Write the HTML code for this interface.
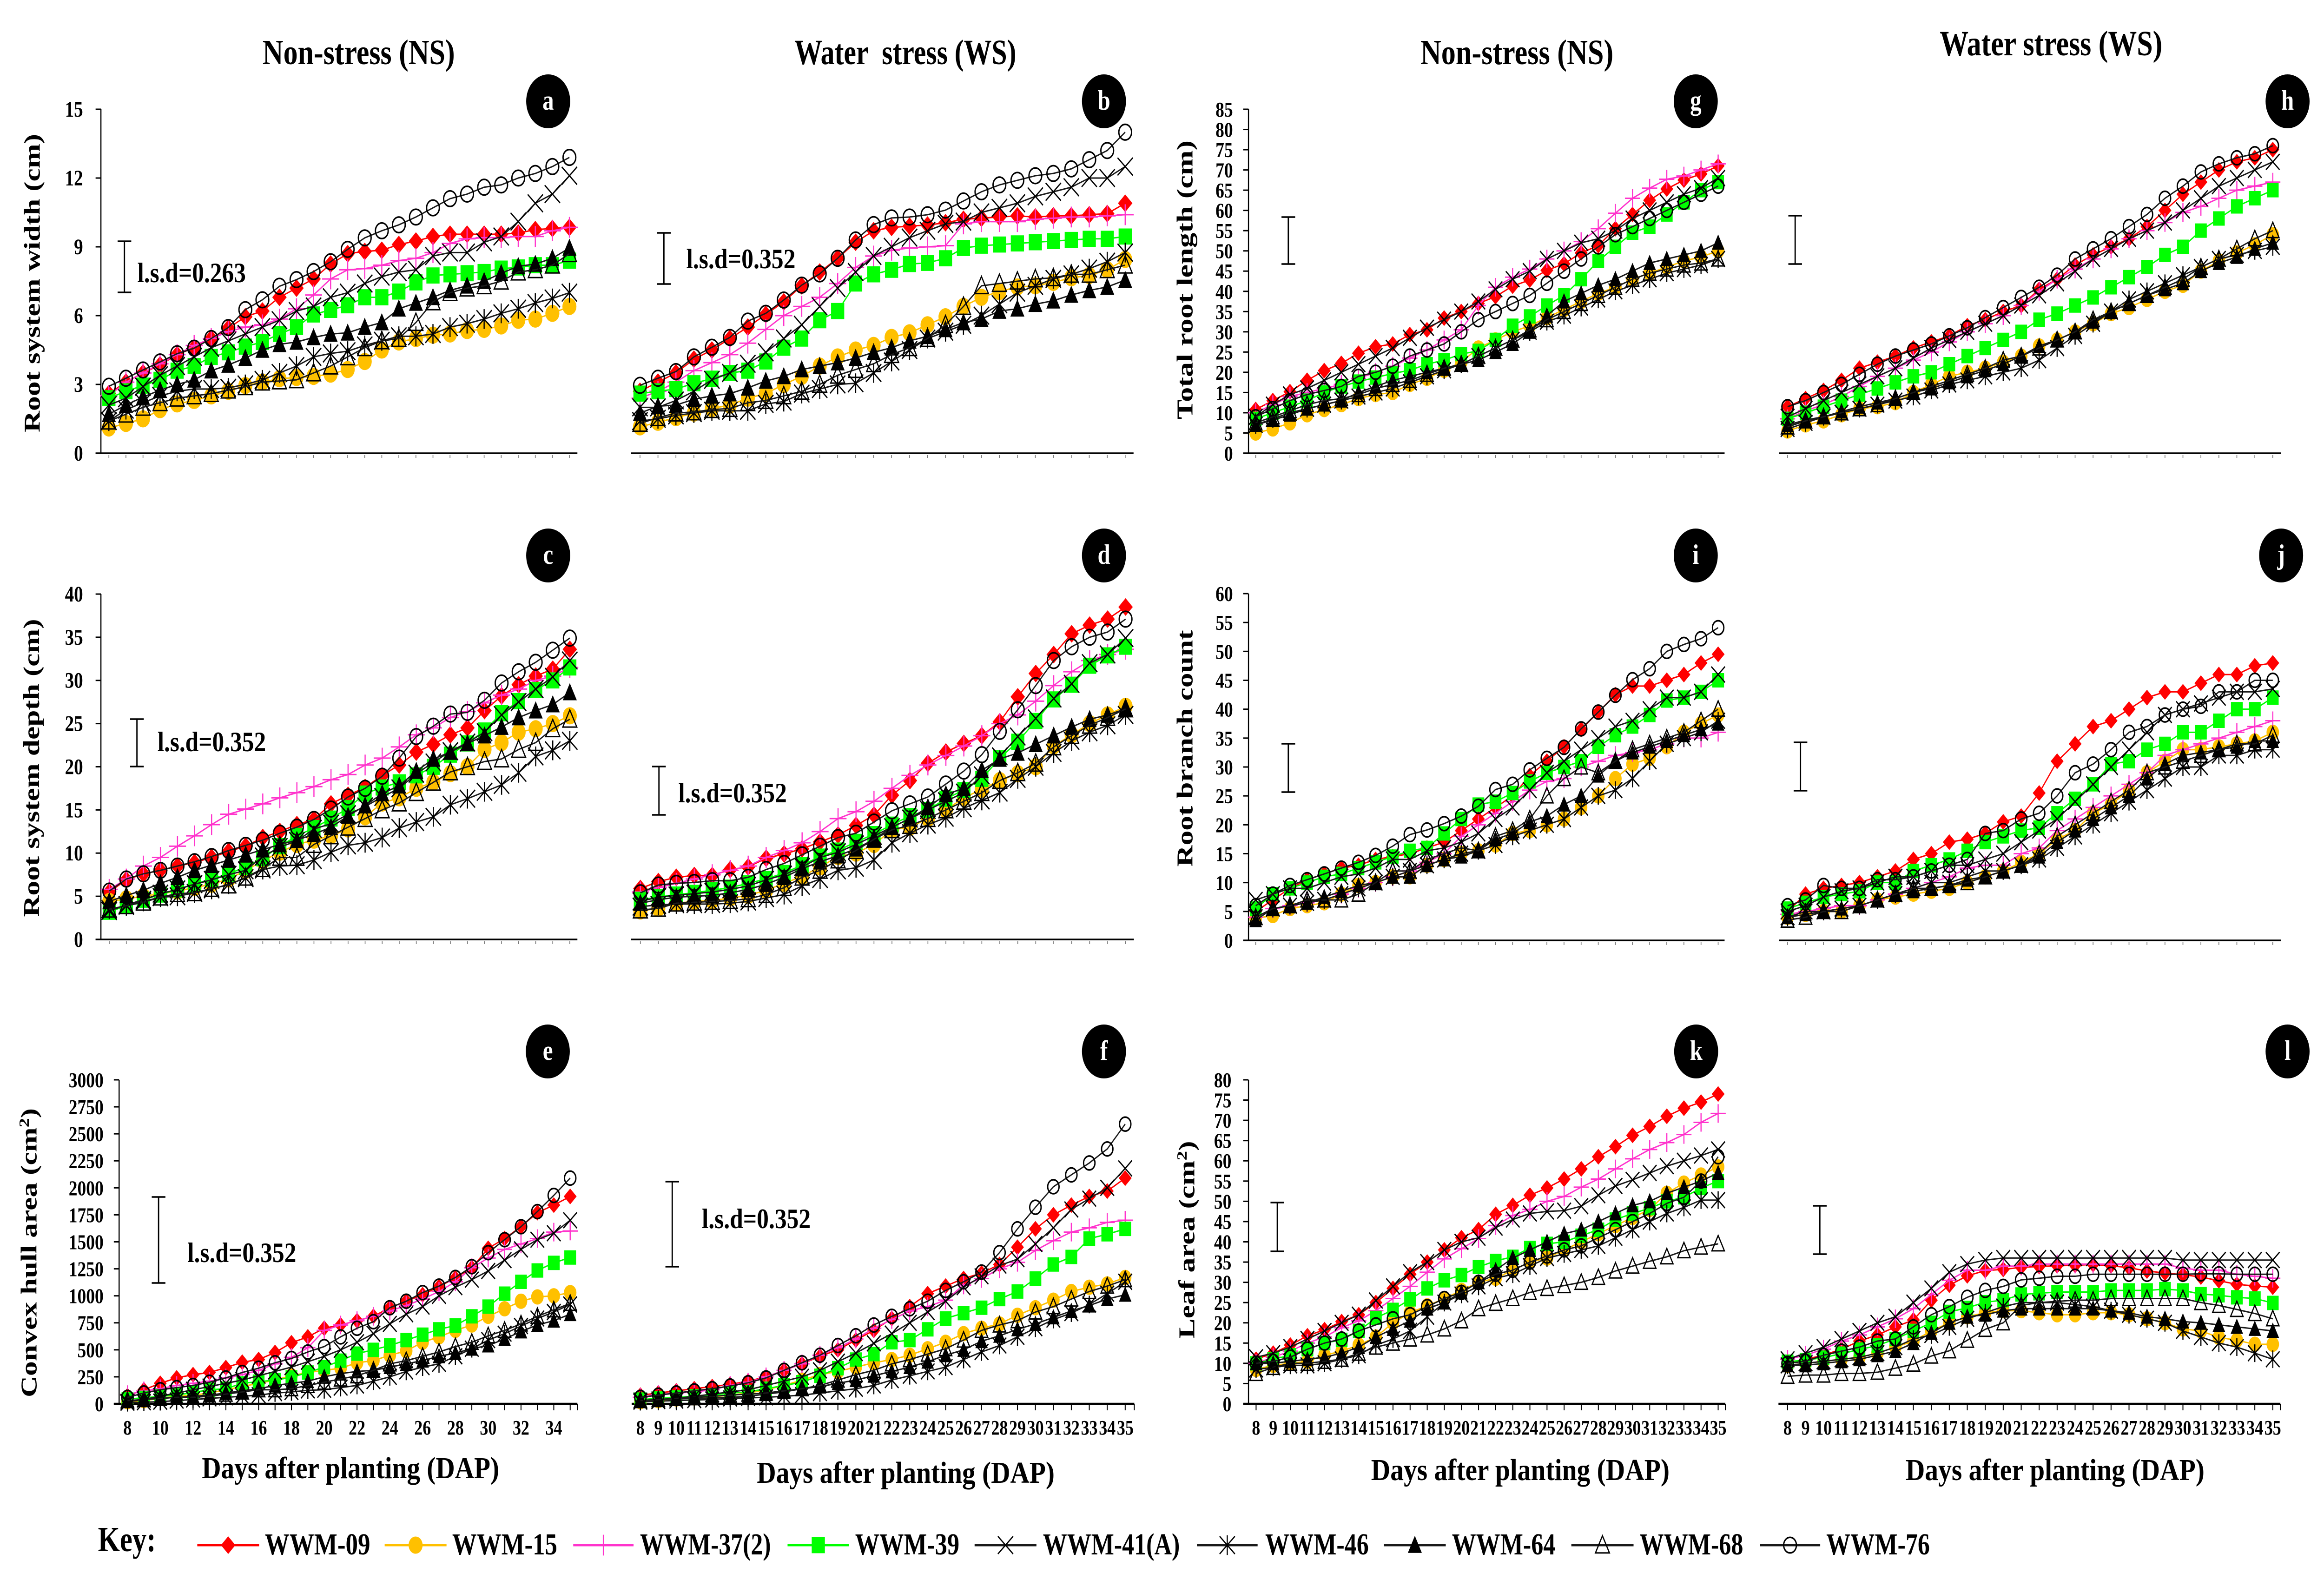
<!DOCTYPE html>
<html lang="en">
<head>
<meta charset="utf-8">
<title>Root and leaf growth of WWM lines under non-stress and water stress</title>
<style>
html,body{margin:0;padding:0;background:#fff;width:100%;height:100%;overflow:hidden}
svg{display:block;width:100vw;height:100vh}
text{font-family:"Liberation Serif",serif;font-weight:bold;fill:#000}
</style>
</head>
<body>
<svg id="figure" xmlns="http://www.w3.org/2000/svg" viewBox="0 0 6126 3399" preserveAspectRatio="none">
<rect x="0" y="0" width="6126" height="3399" fill="#fff"/>

<g id="plots"></g>

<g font-size="76">
<text x="692" y="138" textLength="507" lengthAdjust="spacingAndGlyphs">Non-stress (NS)</text>
<text x="2094" y="138" textLength="585" lengthAdjust="spacingAndGlyphs" xml:space="preserve">Water  stress (WS)</text>
<text x="3744" y="138" textLength="509" lengthAdjust="spacingAndGlyphs">Non-stress (NS)</text>
<text x="5113" y="119" textLength="587" lengthAdjust="spacingAndGlyphs" xml:space="preserve">Water stress (WS)</text>
</g>

<g font-size="60" text-anchor="middle">
<text transform="translate(105,609) rotate(-90)" textLength="642" lengthAdjust="spacingAndGlyphs">Root system width (cm)</text>
<text transform="translate(103,1652) rotate(-90)" textLength="641" lengthAdjust="spacingAndGlyphs">Root system depth (cm)</text>
<text transform="translate(96,2695) rotate(-90)" textLength="622" lengthAdjust="spacingAndGlyphs">Convex hull area (cm<tspan font-size="38" dy="-20">2</tspan><tspan dy="20">)</tspan></text>
<text transform="translate(3143,602) rotate(-90)" textLength="600" lengthAdjust="spacingAndGlyphs">Total root length (cm)</text>
<text transform="translate(3143,1610) rotate(-90)" textLength="509" lengthAdjust="spacingAndGlyphs">Root branch count</text>
<text transform="translate(3148,2667) rotate(-90)" textLength="425" lengthAdjust="spacingAndGlyphs">Leaf area (cm<tspan font-size="38" dy="-20">2</tspan><tspan dy="20">)</tspan></text>
</g>

<g font-size="66">
<text x="532" y="3180" textLength="784" lengthAdjust="spacingAndGlyphs">Days after planting (DAP)</text>
<text x="1995" y="3190" textLength="785" lengthAdjust="spacingAndGlyphs">Days after planting (DAP)</text>
<text x="3614" y="3184" textLength="787" lengthAdjust="spacingAndGlyphs">Days after planting (DAP)</text>
<text x="5023" y="3184" textLength="788" lengthAdjust="spacingAndGlyphs">Days after planting (DAP)</text>
</g>

<g font-size="60">
<text x="362" y="607" textLength="286" lengthAdjust="spacingAndGlyphs">l.s.d=0.263</text>
<text x="1809" y="577" textLength="288" lengthAdjust="spacingAndGlyphs">l.s.d=0.352</text>
<text x="415" y="1616" textLength="286" lengthAdjust="spacingAndGlyphs">l.s.d=0.352</text>
<text x="1788" y="1726" textLength="286" lengthAdjust="spacingAndGlyphs">l.s.d=0.352</text>
<text x="494" y="2715" textLength="287" lengthAdjust="spacingAndGlyphs">l.s.d=0.352</text>
<text x="1850" y="2642" textLength="287" lengthAdjust="spacingAndGlyphs">l.s.d=0.352</text>
</g>

<g>
<circle cx="1445" cy="218" r="58" fill="#000"/>
<circle cx="2910" cy="218" r="58" fill="#000"/>
<circle cx="1445" cy="1195" r="58" fill="#000"/>
<circle cx="2910" cy="1195" r="58" fill="#000"/>
<circle cx="1444" cy="2262" r="58" fill="#000"/>
<circle cx="2910" cy="2262" r="58" fill="#000"/>
<circle cx="4470" cy="218" r="58" fill="#000"/>
<circle cx="6030" cy="218" r="58" fill="#000"/>
<circle cx="4470" cy="1195" r="58" fill="#000"/>
<circle cx="6013" cy="1195" r="58" fill="#000"/>
<circle cx="4471" cy="2262" r="58" fill="#000"/>
<circle cx="6030" cy="2262" r="58" fill="#000"/>
<g font-size="60" text-anchor="middle" style="fill:#fff">
<text x="1445" y="236" style="fill:#fff">a</text>
<text x="2910" y="236" style="fill:#fff">b</text>
<text x="1445" y="1213" style="fill:#fff">c</text>
<text x="2910" y="1213" style="fill:#fff">d</text>
<text x="1444" y="2280" style="fill:#fff">e</text>
<text x="2910" y="2280" style="fill:#fff">f</text>
<text x="4470" y="236" style="fill:#fff">g</text>
<text x="6030" y="236" style="fill:#fff">h</text>
<text x="4470" y="1213" style="fill:#fff">i</text>
<text x="6013" y="1213" style="fill:#fff">j</text>
<text x="4471" y="2280" style="fill:#fff">k</text>
<text x="6030" y="2280" style="fill:#fff">l</text>
</g>
</g>

<g id="legend">
<text x="258" y="3337" font-size="76" textLength="153" lengthAdjust="spacingAndGlyphs">Key:</text>
<g font-size="66">
<text x="698" y="3344" textLength="278" lengthAdjust="spacingAndGlyphs">WWM-09</text>
<text x="1192" y="3344" textLength="277" lengthAdjust="spacingAndGlyphs">WWM-15</text>
<text x="1687" y="3344" textLength="345" lengthAdjust="spacingAndGlyphs">WWM-37(2)</text>
<text x="2254" y="3344" textLength="275" lengthAdjust="spacingAndGlyphs">WWM-39</text>
<text x="2749" y="3344" textLength="361" lengthAdjust="spacingAndGlyphs">WWM-41(A)</text>
<text x="3335" y="3344" textLength="273" lengthAdjust="spacingAndGlyphs">WWM-46</text>
<text x="3827" y="3344" textLength="273" lengthAdjust="spacingAndGlyphs">WWM-64</text>
<text x="4322" y="3344" textLength="273" lengthAdjust="spacingAndGlyphs">WWM-68</text>
<text x="4814" y="3344" textLength="273" lengthAdjust="spacingAndGlyphs">WWM-76</text>
</g>
</g>
</svg>

<script>
// Categories and tick labels
const days=[8,9,10,11,12,13,14,15,16,17,18,19,20,21,22,23,24,25,26,27,28,29,30,31,32,33,34,35];
const everyOtherDay=[8,10,12,14,16,18,20,22,24,26,28,30,32,34];
const ticksWidth=[0,3,6,9,12,15];
const ticksDepth=[0,5,10,15,20,25,30,35,40];
const ticksHull=[0,250,500,750,1000,1250,1500,1750,2000,2250,2500,2750,3000];
const ticksLength=[0,5,10,15,20,25,30,35,40,45,50,55,60,65,70,75,80,85];
const ticksBranch=[0,5,10,15,20,25,30,35,40,45,50,55,60];
const ticksLeaf=[0,5,10,15,20,25,30,35,40,45,50,55,60,65,70,75,80];

// a: root system width, non-stress
const a09=[2.6,3.1,3.5,3.85,4.3,4.6,5.0,5.45,5.95,6.2,6.8,7.2,7.6,8.25,8.7,8.8,8.85,9.1,9.25,9.45,9.55,9.55,9.55,9.55,9.6,9.75,9.8,9.85];
const a15=[1.1,1.3,1.5,1.9,2.15,2.3,2.5,2.7,2.95,3.1,3.25,3.3,3.35,3.45,3.65,4.0,4.5,4.85,5.0,5.15,5.2,5.35,5.4,5.55,5.8,5.85,6.1,6.4];
const a37=[2.5,3.1,3.5,3.9,4.3,4.7,5.0,5.3,5.5,5.6,5.85,6.3,6.9,7.6,8.0,8.05,8.2,8.4,8.5,8.75,9.15,9.35,9.4,9.4,9.45,9.45,9.7,9.85];
const a39=[2.4,2.7,2.95,3.2,3.6,3.8,4.2,4.4,4.65,4.85,5.2,5.5,6.05,6.25,6.45,6.8,6.8,7.05,7.45,7.75,7.8,7.85,7.9,8.05,8.1,8.2,8.2,8.4];
const a41=[2.1,2.4,2.9,3.4,3.8,4.2,4.6,4.9,5.2,5.5,5.8,6.2,6.4,6.8,7.0,7.4,7.7,7.9,8.0,8.6,8.75,8.75,9.2,9.45,10.1,10.9,11.3,12.1];
const a46=[1.4,1.9,2.2,2.5,2.7,2.8,2.8,2.85,3.0,3.2,3.5,3.8,4.2,4.35,4.45,4.7,4.9,5.1,5.1,5.2,5.5,5.65,5.85,6.1,6.3,6.55,6.75,7.0];
const a64=[1.7,2.1,2.45,2.75,3.0,3.2,3.6,3.85,4.15,4.5,4.75,4.85,5.05,5.2,5.25,5.5,5.7,6.3,6.55,6.8,7.1,7.3,7.5,7.85,8.15,8.25,8.5,8.95];
const a68=[1.4,1.7,2.0,2.2,2.4,2.5,2.6,2.75,2.9,3.1,3.15,3.2,3.5,3.8,4.2,4.6,4.9,5.0,5.7,6.6,7.0,7.2,7.3,7.5,7.9,8.0,8.2,8.7];
const a76=[2.92,3.27,3.63,3.98,4.34,4.58,5.0,5.48,6.26,6.69,7.28,7.57,7.92,8.35,8.89,9.39,9.7,9.96,10.3,10.7,11.1,11.3,11.6,11.7,12.0,12.2,12.5,12.9];

// b: root system width, water stress
const b09=[2.7,3.1,3.5,4.1,4.5,5.0,5.5,6.05,6.6,7.3,7.9,8.5,9.2,9.7,9.85,9.9,9.95,10.05,10.2,10.25,10.3,10.35,10.3,10.35,10.35,10.4,10.45,10.9];
const b15=[1.15,1.35,1.55,1.75,1.95,2.1,2.4,2.6,3.0,3.35,3.8,4.2,4.5,4.7,5.05,5.25,5.6,5.95,6.4,6.8,7.05,7.25,7.3,7.45,7.65,7.75,8.0,8.45];
const b37=[2.4,2.7,3.1,3.6,3.95,4.3,4.8,5.4,6.0,6.4,6.8,7.4,8.1,8.6,8.85,8.95,9.0,9.05,10.0,10.1,10.1,10.1,10.2,10.25,10.3,10.3,10.35,10.4];
const b39=[2.6,2.7,2.8,3.05,3.25,3.5,3.6,4.0,4.6,5.0,5.8,6.2,7.4,7.8,8.0,8.25,8.3,8.5,8.95,9.05,9.1,9.15,9.2,9.25,9.3,9.35,9.35,9.45];
const b41=[2.0,2.0,2.3,2.7,3.2,3.5,3.9,4.4,5.0,5.6,6.4,7.2,7.9,8.6,9.0,9.4,9.7,10.0,10.1,10.5,10.7,10.9,11.2,11.4,11.6,12.0,12.0,12.5];
const b46=[1.4,1.5,1.65,1.75,1.85,1.85,1.85,2.15,2.25,2.6,2.8,3.0,3.05,3.5,4.0,4.5,5.0,5.3,5.6,6.0,6.5,7.0,7.3,7.6,7.8,8.05,8.35,8.75];
const b64=[1.75,2.05,2.1,2.35,2.5,2.6,2.85,3.15,3.35,3.65,3.8,3.95,4.15,4.4,4.6,4.9,5.1,5.4,5.7,5.85,6.2,6.3,6.5,6.65,6.9,7.1,7.25,7.55];
const b68=[1.3,1.55,1.75,1.8,1.9,1.95,2.2,2.3,2.5,2.7,3.0,3.4,3.65,3.9,4.3,4.6,5.0,5.6,6.4,7.3,7.4,7.5,7.6,7.65,7.8,7.8,8.0,8.2];
const b76=[2.96,3.27,3.56,4.2,4.62,5.05,5.76,6.1,6.68,7.33,7.82,8.5,9.3,9.97,10.26,10.3,10.4,10.6,11.0,11.4,11.7,11.9,12.1,12.2,12.4,12.8,13.2,14.0];

// c: root system depth, non-stress
const c09=[5.5,6.9,7.6,8.0,8.5,8.9,9.5,10.2,10.8,11.8,12.5,13.3,13.9,15.7,16.7,17.6,19.0,20.2,21.7,22.6,23.7,24.5,26.5,28.2,29.5,30.5,31.3,33.6];
const c15=[4.4,4.7,5.0,5.3,5.6,6.0,6.4,7.0,8.0,9.1,10.1,11.0,11.5,12.0,12.8,14.2,15.8,16.4,17.5,18.2,19.2,20.0,22.0,22.8,24.0,24.4,25.0,25.9];
const c37=[5.8,7.0,8.5,9.5,10.8,12.0,13.3,14.5,15.1,15.7,16.4,17.0,17.7,18.5,19.1,20.2,21.0,22.3,23.7,24.5,25.7,26.4,27.4,28.3,29.0,30.0,30.5,31.5];
const c39=[3.2,3.9,4.6,5.2,5.8,6.4,7.0,7.6,8.4,9.4,10.8,12.0,12.9,14.0,15.2,16.9,17.6,18.2,19.0,20.0,21.4,22.7,24.2,26.2,27.6,28.9,30.0,31.5];
const c41=[3.3,4.0,4.6,5.3,5.8,6.4,6.9,7.5,8.0,9.6,10.7,11.4,12.8,13.4,14.5,15.4,16.5,17.5,19.2,20.5,21.8,22.8,24.0,26.0,27.5,29.0,30.4,32.3];
const c46=[3.5,3.9,4.4,4.9,5.0,5.4,5.8,6.4,7.1,8.1,8.5,8.6,9.2,10.1,10.9,11.2,11.8,12.9,13.6,14.2,15.6,16.3,17.1,17.9,19.3,21.2,21.9,23.0];
const c64=[4.4,5.1,5.7,6.5,7.2,8.0,8.6,9.2,9.8,10.4,11.0,11.5,12.2,13.0,14.3,15.5,16.9,17.8,19.5,20.9,21.7,22.7,23.6,24.6,25.7,26.5,27.2,28.6];
const c68=[3.5,3.9,4.3,4.9,5.3,5.4,5.9,6.3,7.2,8.2,9.5,9.5,11.0,12.0,13.0,14.0,15.0,15.8,17.0,18.2,19.4,20.0,20.6,20.9,22.0,22.8,24.4,25.5];
const c76=[5.6,7.0,7.6,8.0,8.5,9.0,9.6,10.3,10.9,11.5,12.3,13.0,13.9,15.1,16.5,17.5,18.9,21,23.5,24.7,26.1,26.3,27.7,29.7,31,32.1,33.5,34.9];

// d: root system depth, water stress
const d09=[5.9,6.7,7.2,7.4,7.4,8.1,8.4,9.4,9.9,10.5,11.3,12.1,13.2,14.4,16.7,18.4,20.4,21.7,22.7,23.6,25.2,28.1,30.8,33.0,35.4,36.4,37.1,38.5];
const d15=[3.3,3.6,4.2,4.4,4.5,4.8,5.1,5.7,6.5,7.3,8.4,9.6,10.0,11.0,12.7,13.0,14.0,15.0,16.4,17.4,18.4,19.2,20.0,22.4,23.7,25.0,26.0,27.0];
const d37=[5.5,6.0,6.5,7.0,7.5,8.0,8.5,9.5,10.3,11.2,12.5,14.0,14.8,16.0,17.5,19.0,20.2,21.3,22.4,23.6,25.0,26.0,27.6,29.4,31.0,32.3,33.0,33.6];
const d39=[4.6,4.9,5.2,5.4,5.7,6.0,6.5,7.0,7.7,8.6,9.6,10.3,11.3,12.2,13.3,14.3,15.0,16.3,17.3,18.6,21.0,22.9,25.3,27.8,29.5,31.7,32.9,33.9];
const d41=[4.4,4.9,5.1,5.3,5.5,5.8,6.2,6.9,7.5,8.4,9.5,10.1,11.0,12.0,13.0,14.0,15.0,16.0,17.0,19.0,21.2,23.5,25.6,27.9,29.6,32.0,33.0,34.9];
const d46=[3.8,4.0,4.1,4.1,4.1,4.2,4.4,4.8,5.2,6.2,7.0,8.0,8.3,9.2,11.2,12.3,13.3,14.1,15.2,16.1,17.0,18.6,20.0,21.6,23.0,24.0,24.8,26.0];
const d64=[4.2,4.6,4.9,5.0,5.1,5.4,5.8,6.4,7.2,8.2,9.0,9.7,10.5,11.6,13.0,14.0,15.3,16.8,17.5,19.6,20.9,21.6,22.6,23.6,24.6,25.5,26.0,26.7];
const d68=[3.4,3.6,4.2,4.3,4.4,4.5,4.7,5.2,6.0,7.2,8.0,9.2,10.3,11.6,12.7,13.2,14.0,15.0,16.0,17.0,18.4,19.3,20.4,22.3,23.6,24.8,25.7,26.7];
const d76=[5.4,6.3,6.5,6.6,6.8,6.8,7.2,8.1,8.8,9.8,10.8,11.8,12.3,13.6,14.9,15.7,16.5,18.0,19.5,21.4,24.1,26.6,29.4,32.3,33.9,35.0,35.6,37.1];

// e: convex hull area, non-stress
const e09=[75,130,190,240,270,290,335,385,410,475,565,620,700,730,770,810,890,950,1010,1085,1165,1260,1440,1530,1640,1770,1840,1920];
const e15=[20,30,50,70,80,100,130,160,190,220,260,290,310,330,380,400,450,490,570,620,680,730,810,880,950,990,1000,1030];
const e37=[85,120,140,170,190,210,240,270,310,370,430,520,680,730,770,810,860,910,970,1040,1130,1260,1350,1430,1480,1530,1590,1600];
const e39=[45,55,70,80,105,130,140,190,205,220,245,290,340,400,465,500,540,590,640,690,725,810,900,1020,1130,1235,1305,1355];
const e41=[20,40,70,100,130,160,190,220,260,300,340,390,440,500,570,650,740,830,900,1000,1080,1150,1230,1330,1430,1520,1580,1700];
const e46=[10,15,20,30,40,50,60,70,80,100,110,125,130,150,170,210,250,300,340,370,440,510,590,650,720,790,850,920];
const e64=[25,40,50,60,70,80,100,120,140,170,190,210,250,280,300,310,340,370,400,440,470,510,540,600,670,730,770,830];
const e68=[30,40,50,60,60,70,90,110,130,130,140,170,200,230,260,310,370,400,440,480,530,570,630,680,740,810,870,930];
const e76=[60,100,130,150,170,200,240,290,330,380,420,480,530,620,700,760,890,950,1030,1090,1170,1270,1400,1520,1640,1780,1930,2090];

// f: convex hull area, water stress
const f09=[80,100,120,140,160,180,210,250,310,370,440,500,590,680,790,900,1020,1090,1160,1210,1290,1450,1620,1750,1840,1920,1970,2090];
const f15=[20,30,45,55,65,80,100,130,170,220,270,300,340,380,410,450,510,570,650,700,740,820,890,960,1040,1080,1110,1170];
const f37=[60,90,100,110,130,170,200,250,310,370,450,520,600,700,780,860,900,960,1100,1160,1250,1310,1420,1510,1590,1630,1680,1700];
const f39=[40,50,60,70,80,100,110,140,170,200,260,330,410,460,570,590,690,790,840,890,970,1040,1160,1290,1360,1530,1570,1620];
const f41=[30,40,50,70,90,110,130,170,210,250,310,390,470,560,650,750,850,950,1080,1180,1280,1340,1480,1630,1800,1900,2000,2180];
const f46=[20,25,30,35,40,50,55,60,70,80,100,120,140,170,220,260,300,340,410,480,540,620,700,780,840,920,1020,1130];
const f64=[30,40,45,50,55,60,70,90,110,140,160,190,220,260,300,340,390,450,500,580,630,690,740,800,860,910,970,1010];
const f68=[30,40,50,60,70,80,90,100,120,140,170,220,270,310,370,410,460,510,590,680,730,770,850,900,970,1040,1090,1150];
const f76=[60,80,100,120,140,165,195,240,310,380,450,540,630,730,810,880,950,1050,1130,1220,1400,1620,1820,2010,2120,2230,2360,2590];

// g: total root length, non-stress
const g09=[10.8,13,15.2,18,20.4,22.2,24.7,26.3,27,29.3,30.5,33.4,35,37,38.7,41.3,42.8,45.2,46.8,49.5,51.3,55.5,59,62.5,65.3,67.5,69,71];
const g15=[5,6,7.5,9.5,10.8,12,13.5,14.5,15,17,18.5,20.5,22.5,26,28,30,31.5,33.5,35.5,37.5,39.5,41,43,44.5,46,47.5,48.5,50];
const g37=[10,12,14,15,16,17,18.5,20,21.5,23.5,25.5,28,30.5,36.5,41,43.5,45.5,48,50,52.3,55.5,59.3,63,65.5,67.7,68.5,70,71.5];
const g39=[8.5,10,11.5,13,15,16.5,17.7,18.7,19.7,20.5,22,23,24.5,25.3,28,31.5,33.8,36.5,39,43,47.5,51,54.5,56,59,62,65,67];
const g41=[9,12,14.5,16,18,20,22,24,26,28.5,31,33,35,37.5,40.5,43,45,48,50,52,53,55,58,60,62,64,65.5,68];
const g46=[7,8.5,10,11,12,13,14,15,16,17.5,19,20.5,22,24,26,28,30,32.5,34,36,38,40,41.5,43,44.5,45.5,46.5,48];
const g64=[7,8.2,9.5,11,12,13,15,16.5,18,19,20,21,22,23,25,27,30,34,37.5,39.5,41.5,43,45,47,48,49,50,52];
const g68=[7.5,9,10.5,12,13,13.5,14.5,16,17,18,19.5,21,22,24,26,28,30.5,33,35,37,39,41,43,44.5,45.5,46.5,47,48];
const g76=[9,11,13,14.5,15.5,16.5,19,20,21.5,24,25.5,27,30,33,35,37,39,42,45,48,51,54,56,58,60,62,64,66];

// h: total root length, water stress
const h09=[11.5,13.5,15.5,18,21,22.5,24,26,27.5,29,31.5,33,35,36.5,40.5,43,46.5,49,51,53,56,60,64,67,70,72,73,75];
const h15=[5.5,7,8,9.5,11,11.5,12.5,15,17,19,20,21,22.5,24,26.5,28,30,32,34.5,36,38,40,41.5,45,47.5,49.5,51.5,54];
const h37=[8.5,10.5,12,14,16.5,19,21,23,25,27.5,30,32,34,36.5,40,43,45.5,48,50.5,53,55,57,59.5,61,63,65,66,67];
const h39=[8.5,10,11.5,13,14.5,16,17.5,19,20,22,24,26,28,30,33,34.5,36.5,38.5,41,43.5,46,49,51,55,58,61,63,65];
const h41=[9,11,13,15,17,19,21,23.5,26,28,30,32,34,36.5,39,42,45,48,50.5,53,55,57,60,63,66,68,70,72];
const h46=[6,7.5,9,10,11,12,13,14,15.5,17,18,19,20,21,23,26,29,32,35,38,40,42,44,46,48,49,50,51];
const h64=[7,8.2,9,10.3,11.5,12.5,13.5,15,16,17.5,19,20.5,22,24,26.5,28,30,32.5,35,37,39,40.5,42,45,47,48.5,50.5,52];
const h68=[6.5,8,9,10,11,12,13.5,15,16.5,18,19.5,21,23,24,26,28,30,33,35,37,39,41,43,46,48,50.5,53,55];
const h76=[11.5,13,15,17,19.5,22,24,25.5,27,29,31,33.5,36,38.5,41,44,48,50.5,53,56,59,63,66,69.5,71.5,73,74,76];

// i: root branch count, non-stress
const i09=[5,7,9,10.5,11.5,12.5,13,14,14.5,15,16,17,19,21,23,25,28.5,31,33.5,36.5,39.5,42.5,44,44,45,46,48,49.5];
const i15=[3.8,4.3,5.5,6,6.5,8,9.5,10,11,11,13,14,15,15.5,16.5,18.5,19,20,21,23,25,28,30.5,31.5,33.5,36,37.5,39];
const i37=[4,5.5,6,6.5,7,8,9,10,11,12,13.5,15,18,20,22,24,26,27.5,28,30,31,32,32.5,33,34,35,35,36];
const i39=[5.5,8,9,10,11,11.5,12.5,13.5,14.5,15.5,16,18.5,21,23.5,24,25.5,27.5,29,30,31,33.5,35.5,37,39,41.5,42,43,45];
const i41=[7,8,9,9,10,11,11.5,12.5,14,14,15.5,16,17,18.5,21,23,26,29,31,33,35,37,38,40,42,42,43,46];
const i46=[4,5.5,6,6.5,7,8,9,10,11,12,13,14,15,15.5,16.5,18,19,20,21,23,25,26,28,31,34,35,36,38];
const i64=[3.5,5.5,6,6.5,7.5,8.5,9.5,10,11,11,13,14,14.5,15.5,17.5,18.5,20.5,21.5,23.5,25,28.5,31,32.5,33.5,34.5,35.5,36.5,37.5];
const i68=[4,5.5,6,7,7,7,8,10,12,12,14,15,16,15.5,18,19,21,25,28,30,29,31,33,34,35,36,38,40];
const i76=[6,8,9.5,10.5,11.5,12.5,13.5,14.7,16.3,18.3,19.1,20.2,21.5,23.2,26.1,27,29.5,31.5,33.4,36.6,39.5,42.4,45.1,47,50,51.2,52.2,54.1];

// j: root branch count, water stress
const j09=[5,8,9,9.5,10,11,12,14,15,17,17.5,18.5,20.5,21.5,25.5,31,34,37,38,40,42,43,43,44.5,46,46,47.5,48];
const j15=[4,4.5,5,5,6,7,7.5,8,8.5,9,10,11,12,13.5,15,17.5,19,22,23.5,26,29,31,33,33,33.5,34,34.5,36];
const j37=[4.5,5,5.5,6,6,7,8,9,10,11,12.5,13,13,15,16,19,21,23,25,27,29,32,33,34,35,36,37,38];
const j39=[5.5,6.5,7.5,8,8.5,10,10,12,13,14,15.5,17,18,19,19.5,22,24.5,27,30.5,31,33,34,36,36,38,40,40,42];
const j41=[5,6,7.5,8.5,9,10,11,11,12,13,13,14,15,17,19,21,24,27,30,33,36,39,40,41,42,43,43,43.5];
const j46=[4,5,5,5.5,6,7,8,9,10,10,11,12,12,13,14,16,18,20,22,24,26,28,30,30,32,32,33,33];
const j64=[4,4.5,5,5.5,6,7,8,8.5,9,9.5,10.5,11,12,13,14.5,17,19,21,23,25,28,30.5,32,32.5,33,33.5,34.5,34.5];
const j68=[3.5,4,5,5,6,7,8,9,9,9.5,10,11,12,13,15,18,20,22,24,26,29,30,31,32,33,34,34,35.5];
const j76=[6,7,9.5,9,9,10.5,10.5,11,12,13,14,18.5,19,21,22,25,29,30.5,33,36,37,39,40,40.5,43,43,45,45];

// k: leaf area, non-stress
const k09=[11,12.5,14.5,16.8,18.3,20.3,22,25,28.5,32,35,38,41,43,46.8,49,51.5,53.3,55.5,58,61,63.5,66.3,68.5,71,73,74.5,76.5];
const k15=[8.5,9.5,10,10.5,12,13,14.5,16.5,20,22.5,24.2,26,28,30,31,33,35,36,38,40,42,44,46,48,52,54.5,56.5,58.5];
const k37=[10,11.5,13,15,16.5,18.8,20.5,23,26,29,32.5,35.8,38.3,40.8,44,46.5,48,50,51.2,53.5,55.5,58,60.5,62.8,64.5,66.5,69.5,71.7];
const k39=[10,11,12,13.5,15,15.8,18,21.2,23.2,25.8,28.5,30.5,31.8,33.8,35.3,36.3,38.5,39.5,40,41.5,43,45.5,47,48.3,50,51,53.3,55];
const k41=[11.5,12.5,14,16,18,20,22,25.5,29,32.5,35,38,40,41,43.5,45.5,47,47.5,47.7,48.8,51.5,53.8,55.3,57,58.7,60,61.3,62.8];
const k46=[8.5,9,9.5,9.5,10,11,12,14.5,16,18,21.5,25,27,29,31,32,34,36,37,38,39,41,43,45,47,48.5,50.3,50.3];
const k64=[10,10,10.5,11,11.5,12.5,14,16.5,18.5,20.5,23.5,25,27.5,30,33,36,38,40,42,43,45,47,49,50,52,53.5,55,57];
const k68=[7.5,9,10,10,10.5,11,12.5,14,15,16,17,18.5,20.5,23.5,24.8,26,27.5,28.5,29.2,30,31.2,32.8,34,35.2,36.3,37.8,38.7,39.5];
const k76=[10,10.5,11.5,13.5,15,16,18,19.5,21,22,24,26,27.5,30,32,33,35,36.5,38,39,41,43,45,47,49.5,51,55,61];

// l: leaf area, water stress
const l09=[10,11,12,13.5,15.5,17,19,20.7,25.6,29.3,31.6,32.9,33.2,33.7,33.9,34.1,34.2,34.4,34.1,33.6,32.8,32.3,31.9,31.3,30.4,29.5,29.1,28.8];
const l15=[9.5,10,10.5,11,11.5,12.5,14,15.5,18,20,21.5,22.5,23,23,22.5,22,22,22.5,22.5,22,21,20,18.5,18,16.4,15.7,14.7,14.7];
const l37=[11,12,13.5,15.5,17,19,21,23.5,27,30.5,33,33,34,34,34.5,34.5,34.5,34.5,34.5,34.5,34.5,34.5,33.5,33,33,32,31.5,31];
const l39=[10.4,10.8,11.4,12.4,13.4,14.4,16,18,20,22.7,23.7,25.1,25.6,27,27.3,27.6,27.6,27.6,28,28,28,28.3,28,27.1,26.8,26.3,26,24.9];
const l41=[11,12.5,14,16,18,20,21.5,25,28.5,32.5,34.5,35.5,36,36,36,36,36,36,36,36,36,36,35.5,35.5,35.5,35.5,35.5,35.5];
const l46=[9.5,10,10.5,11,11.5,12.5,14,16,17,19,21,22.5,24,25,25,25,24.5,24,23,22,21,20,18,16.5,15,14,12.5,11];
const l64=[9.5,9.5,10,10.5,11,12,13,15,17.5,20,21.5,22,23,23.5,23.5,23.5,23.5,23.5,23,22.5,21.5,21,20.3,20,19.5,19,18.5,18];
const l68=[6.8,7.1,7.1,7.5,7.5,7.8,8.8,9.8,11.8,13.1,15.7,18.4,20,24.3,25,25.3,25.6,25.6,26,26,26,26,26,25,24.3,23.3,22.3,21];
const l76=[10,10.5,12,13,14,15.5,16,19,22,24,26.3,28,29,30.6,31,31.5,31.5,32,32,32,32,32,32,32.1,32.1,32,32,32];

// Series order and looks
const seriesIds=['wwm-09','wwm-15','wwm-37','wwm-39','wwm-41','wwm-46','wwm-64','wwm-68','wwm-76'];
const seriesLook=[
 {kind:'diamond',line:'#ff0000',w:3},
 {kind:'disc',line:'#ffc000',w:3},
 {kind:'plus',line:'#ff33cc',w:3},
 {kind:'square',line:'#00ff00',w:3},
 {kind:'cross',line:'#1a1a1a',w:3},
 {kind:'star',line:'#1a1a1a',w:3},
 {kind:'solidTri',line:'#1a1a1a',w:3},
 {kind:'openTri',line:'#1a1a1a',w:3},
 {kind:'ring',line:'#1a1a1a',w:3}
];

// Panel layout
const panelLayout=[
 {id:'a',left:266,right:1522,x0:287,x1:1501,top:235,base:975,yMax:15,yTicks:ticksWidth,labelRight:219,xLabels:null,tick:6,baseW:3.5,lsd:[328,519,629],size:1.12,values:[a09,a15,a37,a39,a41,a46,a64,a68,a76]},
 {id:'b',left:1663,right:2988,x0:1687,x1:2966,top:235,base:975,yMax:15,yTicks:null,xLabels:null,tick:6,baseW:3.5,lsd:[1750,501,611],size:1.12,values:[b09,b15,b37,b39,b41,b46,b64,b68,b76]},
 {id:'c',left:266,right:1522,x0:288,x1:1502,top:1278,base:2021,yMax:40,yTicks:ticksDepth,labelRight:219,xLabels:null,tick:6,baseW:3.5,lsd:[361,1547,1649],size:1.12,values:[c09,c15,c37,c39,c41,c46,c64,c68,c76]},
 {id:'d',left:1663,right:2989,x0:1688,x1:2967,top:1278,base:2021,yMax:40,yTicks:null,xLabels:null,tick:6,baseW:3.5,lsd:[1737,1649,1753],size:1.12,values:[d09,d15,d37,d39,d41,d46,d64,d68,d76]},
 {id:'e',left:314,right:1522,x0:336,x1:1503,top:2323,base:3020,yMax:3000,yTicks:ticksHull,labelRight:273,xLabels:everyOtherDay,tick:14,baseW:4.5,lsd:[418,2575,2760],size:1,values:[e09,e15,e37,e39,e41,e46,e64,e68,e76]},
 {id:'f',left:1665,right:2990,x0:1688,x1:2966,top:2323,base:3020,yMax:3000,yTicks:null,xLabels:days,tick:14,baseW:4.5,lsd:[1772,2542,2725],size:1,values:[f09,f15,f37,f39,f41,f46,f64,f68,f76]},
 {id:'g',left:3291,right:4546,x0:3310,x1:4529,top:235,base:975,yMax:85,yTicks:ticksLength,labelRight:3250,xLabels:null,tick:6,baseW:3.5,lsd:[3396,467,568],size:1,values:[g09,g15,g37,g39,g41,g46,g64,g68,g76]},
 {id:'h',left:4689,right:6013,x0:4712,x1:5991,top:235,base:975,yMax:85,yTicks:null,xLabels:null,tick:6,baseW:3.5,lsd:[4732,464,568],size:1,values:[h09,h15,h37,h39,h41,h46,h64,h68,h76]},
 {id:'i',left:3291,right:4546,x0:3310,x1:4529,top:1277,base:2023,yMax:60,yTicks:ticksBranch,labelRight:3250,xLabels:null,tick:6,baseW:3.5,lsd:[3396,1600,1704],size:1,values:[i09,i15,i37,i39,i41,i46,i64,i68,i76]},
 {id:'j',left:4689,right:6013,x0:4712,x1:5991,top:1277,base:2023,yMax:60,yTicks:null,xLabels:null,tick:6,baseW:3.5,lsd:[4746,1597,1701],size:1,values:[j09,j15,j37,j39,j41,j46,j64,j68,j76]},
 {id:'k',left:3291,right:4548,x0:3311,x1:4529,top:2323,base:3020,yMax:80,yTicks:ticksLeaf,labelRight:3246,xLabels:days,tick:14,baseW:4.5,lsd:[3367,2587,2692],size:1,values:[k09,k15,k37,k39,k41,k46,k64,k68,k76]},
 {id:'l',left:4688,right:6011,x0:4712,x1:5991,top:2323,base:3020,yMax:80,yTicks:null,xLabels:days,tick:14,baseW:4.5,lsd:[4797,2594,2698],size:1,values:[l09,l15,l37,l39,l41,l46,l64,l68,l76]}
];

const SVGNS='http://www.w3.org/2000/svg';
function make(tag,parent){
  const el=document.createElementNS(SVGNS,tag);
  parent.appendChild(el);
  return el;
}

function drawMarker(parent,kind,color,x,y,k){
  const el=make(kind==='disc'||kind==='ring'?'circle':'path',parent);
  
  
  if(kind==='disc'||kind==='ring'){
    el.setAttribute('cx',x);
    el.setAttribute('cy',y);
    el.setAttribute('r',(kind==='disc'?16.5:15)*k);
    el.setAttribute('fill',kind==='disc'?color:'none');
    if(kind==='ring'){
      el.setAttribute('stroke','#000');
      el.setAttribute('stroke-width','3.5');
    }
    return;
  }
  let d='',fill='none',stroke='#000';
  const dm=17*k,sq=15.5*k,cx=18*k,cy=17*k,st=19*k,tw=16.5*k,tu=18*k,td=15*k,pl=20*k;
  if(kind==='diamond'){d=`M${x} ${y-dm}L${x+dm} ${y}L${x} ${y+dm}L${x-dm} ${y}Z`;fill=color;stroke='none';}
  if(kind==='plus'){d=`M${x-pl} ${y}H${x+pl}M${x} ${y-pl}V${y+pl}`;stroke=color;}
  if(kind==='square'){d=`M${x-sq} ${y-sq}H${x+sq}V${y+sq}H${x-sq}Z`;fill=color;stroke='none';}
  if(kind==='cross'){d=`M${x-cx} ${y-cy}L${x+cx} ${y+cy}M${x-cx} ${y+cy}L${x+cx} ${y-cy}`;}
  if(kind==='star'){d=`M${x-cx} ${y-cy}L${x+cx} ${y+cy}M${x-cx} ${y+cy}L${x+cx} ${y-cy}M${x} ${y-st}V${y+st}`;}
  if(kind==='solidTri'){d=`M${x} ${y-tu}L${x+tw} ${y+td}H${x-tw}Z`;fill='#000';stroke='none';}
  if(kind==='openTri'){d=`M${x} ${y-tu}L${x+tw} ${y+td}H${x-tw}Z`;}
  el.setAttribute('d',d);
  el.setAttribute('fill',fill);
  el.setAttribute('stroke',stroke);
  el.setAttribute('stroke-width','3');
}

function drawPanel(p){
  const root=document.getElementById('plots');
  const g=make('g',root);
  
  
  const xScale=function(day){return p.x0+(day-days[0])*(p.x1-p.x0)/(days[days.length-1]-days[0]);};
  const yScale=function(v){return p.base-v*(p.base-p.top)/p.yMax;};

  // x axis
  const xAxis=make('line',g);
  
  
  xAxis.setAttribute('x1',p.yTicks?p.left-14:p.left);
  xAxis.setAttribute('x2',p.right);
  xAxis.setAttribute('y1',p.base);
  xAxis.setAttribute('y2',p.base);
  xAxis.setAttribute('stroke','#000');
  xAxis.setAttribute('stroke-width',p.baseW);
  days.forEach(function(day){
    const t=make('line',g);
    
    
    t.setAttribute('x1',xScale(day));
    t.setAttribute('x2',xScale(day));
    t.setAttribute('y1',p.tick>10?p.base:p.base+4);
    t.setAttribute('y2',p.base+p.tick+(p.tick>10?0:4));
    t.setAttribute('stroke',p.tick>10?'#000':'#777');
    t.setAttribute('stroke-width',p.tick>10?2.5:2);
  });
  if(p.xLabels){
    p.xLabels.forEach(function(day){
      const t=make('text',g);
      
      
      t.setAttribute('x',xScale(day));
      t.setAttribute('y',3086);
      t.setAttribute('text-anchor','middle');
      t.setAttribute('font-size','44');
      t.textContent=day;
    });
    const endTick=make('line',g);
    
    
    endTick.setAttribute('x1',p.right);
    endTick.setAttribute('x2',p.right);
    endTick.setAttribute('y1',p.base);
    endTick.setAttribute('y2',p.base+p.tick);
    endTick.setAttribute('stroke','#000');
    endTick.setAttribute('stroke-width','2.5');
  }

  // y axis
  if(p.yTicks){
    const yAxis=make('line',g);
    
    
    yAxis.setAttribute('x1',p.left);
    yAxis.setAttribute('x2',p.left);
    yAxis.setAttribute('y1',p.top);
    yAxis.setAttribute('y2',p.base);
    yAxis.setAttribute('stroke','#000');
    yAxis.setAttribute('stroke-width','3');
    p.yTicks.forEach(function(v){
      const t=make('line',g);
      
      
      t.setAttribute('x1',p.left-14);
      t.setAttribute('x2',p.left);
      t.setAttribute('y1',yScale(v));
      t.setAttribute('y2',yScale(v));
      t.setAttribute('stroke','#000');
      t.setAttribute('stroke-width','3');
      const lab=make('text',g);
      
      
      lab.setAttribute('x',p.labelRight);
      lab.setAttribute('y',yScale(v)+16);
      lab.setAttribute('text-anchor','end');
      lab.setAttribute('font-size',p.yTicks.length>10?'46':'48');
      lab.textContent=v;
    });
  }

  // lsd bar
  const bar=make('path',g);
  
  
  const bx=p.lsd[0],by0=p.lsd[1],by1=p.lsd[2];
  bar.setAttribute('d',`M${bx-18} ${by0}H${bx+18}M${bx} ${by0}V${by1}M${bx-18} ${by1}H${bx+18}`);
  bar.setAttribute('fill','none');
  bar.setAttribute('stroke','#000');
  bar.setAttribute('stroke-width','3.5');

  // series
  p.values.forEach(function(vals,si){
    const look=seriesLook[si];
    const sg=make('g',g);
    
    
    const line=make('polyline',sg);
    
    
    line.setAttribute('points',vals.map(function(v,i){return xScale(days[i])+','+yScale(v);}).join(' '));
    line.setAttribute('fill','none');
    line.setAttribute('stroke',look.line);
    line.setAttribute('stroke-width',look.w);
    vals.forEach(function(v,i){
      drawMarker(sg,look.kind,look.line,xScale(days[i]),yScale(v),p.size);
    });
  });
}
panelLayout.forEach(drawPanel);

// Legend swatches
const legendSpans=[[520,683],[1014,1177],[1511,1670],[2076,2238],[2569,2732],[3155,3315],[3648,3811],[4142,4306],[4639,4798]];
const legendGroup=document.getElementById('legend');
legendSpans.forEach(function(span,si){
  const look=seriesLook[si];
  const l=make('line',legendGroup);
  
  
  l.setAttribute('x1',span[0]);
  l.setAttribute('x2',span[1]);
  l.setAttribute('y1',3324);
  l.setAttribute('y2',3324);
  l.setAttribute('stroke',look.line);
  l.setAttribute('stroke-width','5');
  drawMarker(legendGroup,look.kind,look.line,(span[0]+span[1])/2,3324,1.12);
});
</script>
</body>
</html>
